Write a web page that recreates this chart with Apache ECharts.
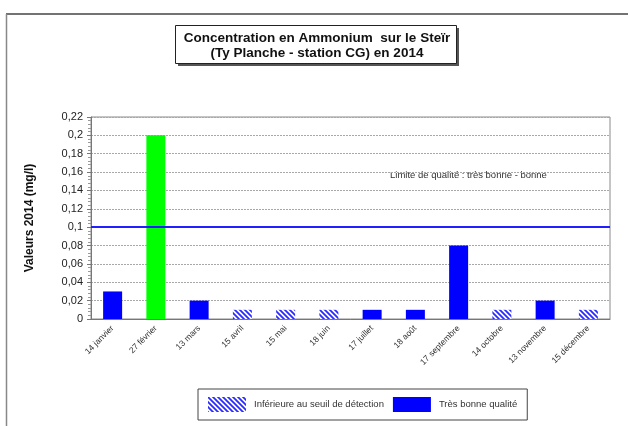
<!DOCTYPE html>
<html>
<head>
<meta charset="utf-8">
<script src="https://cdn.jsdelivr.net/npm/echarts@6/dist/echarts.min.js"></script>
<style>
  html, body { margin: 0; padding: 0; background: #fff; }
  #chart { width: 628px; height: 426px; }
</style>
</head>
<body>
<div id="chart"></div>
<script>
// Sampling dates
const categories = ['14 janvier', '27 février', '13 mars', '15 avril', '15 mai', '18 juin',
  '17 juillet', '18 août', '17 septembre', '14 octobre', '13 novembre', '15 décembre'];

// Measured concentrations (mg/l), '-' where the sample is below the detection threshold
const measured = [0.03, 0.2, 0.02, '-', '-', '-', 0.01, 0.01, 0.08, '-', 0.02, '-'];
// Samples below the detection threshold (drawn at the threshold value)
const belowThreshold = ['-', '-', '-', 0.01, 0.01, 0.01, '-', '-', '-', 0.01, '-', 0.01];
// Index of the sample exceeding the quality limit
const exceedIndex = [1];

const qualityLimit = 0.1;
const yTicks = { min: 0, max: 0.22, interval: 0.02 };

const seriesNames = ['Inférieure au seuil de détection', 'Très bonne qualité'];
const titleLines = ['Concentration en Ammonium  sur le Steïr', '(Ty Planche - station CG) en 2014'];

const FONT = 'Liberation Sans, Arial, sans-serif';

// Diagonal blue hatch pattern
function hatch() {
  const c = document.createElement('canvas');
  c.width = 5; c.height = 5;
  const g = c.getContext('2d');
  g.fillStyle = '#ffffff';
  g.fillRect(0, 0, 5, 5);
  g.strokeStyle = '#2a2aff';
  g.lineWidth = 1.8;
  g.beginPath();
  g.moveTo(-1, -1); g.lineTo(6, 6);
  g.moveTo(-4, 1); g.lineTo(1, 6);
  g.moveTo(1, -4); g.lineTo(6, 1);
  g.stroke();
  return { image: c, repeat: 'repeat' };
}

const measuredData = measured.map((v, i) =>
  exceedIndex.includes(i) ? { value: v, itemStyle: { color: '#00ff00' } } : v);

const chart = echarts.init(document.getElementById('chart'));
chart.setOption({
  animation: false,
  textStyle: { fontFamily: FONT },
  grid: { left: 91, right: 18, top: 117, bottom: 107, show: true, borderColor: '#8a8a8a', borderWidth: 1 },
  legend: {
    data: seriesNames,
    left: 198, top: 389, width: 340,
    icon: 'rect',
    itemWidth: 38, itemHeight: 15, itemGap: 9,
    padding: [8, 10, 8, 10],
    borderColor: '#444', borderWidth: 1,
    textStyle: { fontSize: 9.5, color: '#333', padding: [0, 0, 0, 3] }
  },
  xAxis: {
    type: 'category',
    data: categories,
    axisLine: { lineStyle: { color: '#777' } },
    axisTick: { length: 4, lineStyle: { color: '#777' } },
    axisLabel: { rotate: 45, fontSize: 8.5, color: '#333', margin: 8, interval: 0 },
    splitLine: { show: false }
  },
  yAxis: {
    type: 'value',
    min: yTicks.min, max: yTicks.max, interval: yTicks.interval,
    name: 'Valeurs 2014 (mg/l)',
    nameLocation: 'middle', nameGap: 55,
    nameTextStyle: { fontSize: 12, fontWeight: 'bold', color: '#111' },
    axisLine: { show: true, lineStyle: { color: '#777' } },
    axisTick: { show: true, length: 4, lineStyle: { color: '#777' } },
    minorTick: { show: true, splitNumber: 5, length: 3, lineStyle: { color: '#999' } },
    axisLabel: {
      fontSize: 11, color: '#222', margin: 8,
      formatter: v => String(Math.round(v * 100) / 100).replace('.', ',')
    },
    splitLine: { lineStyle: { color: '#a8a8a8', type: [2, 1], width: 1 } }
  },
  series: [
    {
      name: seriesNames[0],
      type: 'bar', stack: 'v', barWidth: 19,
      itemStyle: { color: hatch() },
      data: belowThreshold
    },
    {
      name: seriesNames[1],
      type: 'bar', stack: 'v', barWidth: 19,
      itemStyle: { color: '#0000ff' },
      data: measuredData,
      markLine: {
        silent: true, symbol: 'none',
        label: { show: false },
        lineStyle: { color: '#2020ff', width: 2, type: 'solid' },
        data: [{ yAxis: qualityLimit }]
      }
    }
  ],
  graphic: [
    // outer frame (top and left edges)
    { type: 'line', shape: { x1: 6, y1: 14, x2: 628, y2: 14 }, style: { stroke: '#444', lineWidth: 1.5 } },
    { type: 'line', shape: { x1: 6.5, y1: 14, x2: 6.5, y2: 426 }, style: { stroke: '#888', lineWidth: 1.5 } },
    // title box with shadow
    { type: 'rect', shape: { x: 178, y: 28, width: 281, height: 38 }, style: { fill: '#555' } },
    { type: 'rect', shape: { x: 175.5, y: 25.5, width: 281, height: 38 }, style: { fill: '#fff', stroke: '#222', lineWidth: 1 } },
    {
      type: 'text',
      style: {
        x: 317, y: 38, text: titleLines[0],
        textAlign: 'center', textVerticalAlign: 'middle',
        fontSize: 13.5, fontWeight: 'bold', fill: '#111', fontFamily: FONT
      }
    },
    {
      type: 'text',
      style: {
        x: 317, y: 53, text: titleLines[1],
        textAlign: 'center', textVerticalAlign: 'middle',
        fontSize: 13.5, fontWeight: 'bold', fill: '#111', fontFamily: FONT
      }
    },
    {
      type: 'text',
      style: {
        x: 390, y: 175, text: 'Limite de qualité : très bonne - bonne',
        textVerticalAlign: 'middle',
        fontSize: 9.5, fill: '#333', fontFamily: FONT
      }
    }
  ]
});
</script>
</body>
</html>
